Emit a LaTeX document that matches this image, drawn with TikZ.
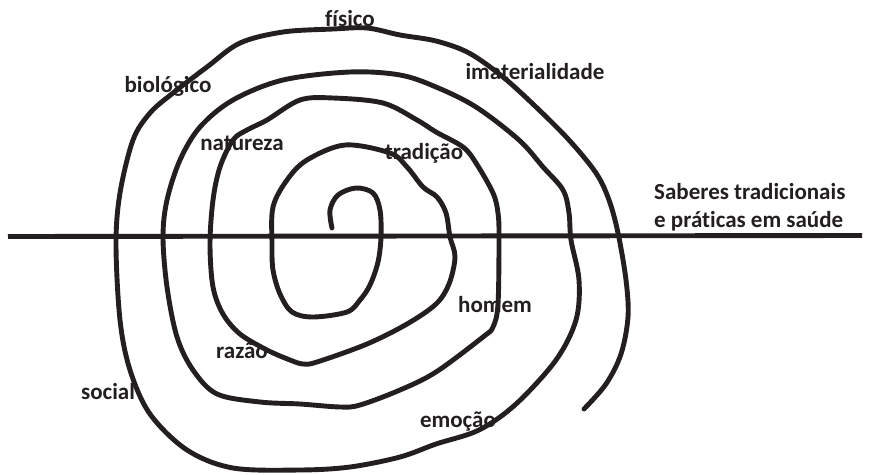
\documentclass[tikz,border=0pt]{standalone}
\usepackage{fontspec}
\setmainfont{Carlito}[Ligatures=NoCommon]
\definecolor{ink}{HTML}{231F20}
\begin{document}
\begin{tikzpicture}[x=1pt,y=-1pt,
  lbl/.style={font=\bfseries\fontsize{23}{28}\selectfont, text=ink, inner sep=0pt},
  stroke/.style={draw=ink, line width=4.9pt, line cap=round, line join=round}]
\useasboundingbox (0,0) rectangle (872,474);
% horizontal axis
\coordinate (axL) at (8,236.5);
\coordinate (axR) at (862,235.5);
\draw[stroke, line cap=butt] (axL) -- (axR);
% spiral
\draw[stroke] plot[smooth, tension=0.55] coordinates {
(332,228) (330,210) (338,195) (356,188) (373,193) (380,210) (381,237) (378,262) (370,285) (360,300) (347,312) (313,317) (292,312) (280,294) (273,270) (272,244)
(273,207) (287,180) (307,160) (345,145) (390,153) (407,167) (423,187) (437,197) (446,213) (450,237) (455,257) (449,284) (436,304) (407,324) (367,344) (317,362) (303,364) (290,360) (267,350) (240,334) (223,314) (213,287) (210,244)
(213,200) (220,167) (233,140) (247,130) (267,120) (300,100) (333,98) (383,103) (417,120) (436,132) (463,147) (476,163) (493,193) (498,213) (499,237) (498,304) (493,327) (483,337) (436,372) (400,390) (360,405) (340,407) (300,404) (260,402) (217,394) (193,370) (177,337) (167,287) (163,237)
(167,200) (180,160) (200,127) (233,100) (283,80) (350,72) (400,75) (436,87) (476,107) (519,140) (543,167) (563,190) (569,213) (571,240) (579,280) (576,320) (556,360) (516,404) (479,430) (436,444) (400,457) (350,467) (300,470) (233,468) (187,450) (150,414) (130,370) (120,320) (116,244)
(120,193) (133,140) (150,113) (173,93) (207,67) (240,43) (283,32) (333,29) (367,28) (400,35) (436,41) (469,53) (503,77) (536,107) (569,140) (596,173) (609,200) (618,233) (626,280) (628,317) (621,354) (606,384) (584,409)};
% labels
\node[lbl] (fisico) at (350,19) {físico};
\node[lbl] (biologico) at (168,86) {biológico};
\node[lbl] (imat) at (535,72) {imaterialidade};
\node[lbl] (natureza) at (242,143) {natureza};
\node[lbl] (tradicao) at (424,153) {tradição};
\node[lbl, align=left, anchor=west] (saberes) at (654,207) {Saberes tradicionais\\e práticas em saúde};
\node[lbl] (homem) at (495,305) {homem};
\node[lbl] (razao) at (242,351) {razão};
\node[lbl] (social) at (108,392) {social};
\node[lbl] (emocao) at (458,422) {emoção};
\end{tikzpicture}
\end{document}
